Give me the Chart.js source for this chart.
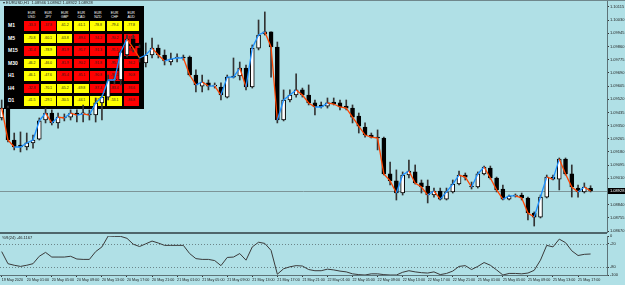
<!DOCTYPE html>
<html>
<head>
<meta charset="utf-8">
<script src="https://cdn.jsdelivr.net/npm/chart.js@4.4.0/dist/chart.umd.min.js"></script>
<style>
body{margin:0;background:#b0e0e6;width:625px;height:285px;overflow:hidden;position:relative;font-family:"Liberation Sans",Arial,sans-serif}
#main{position:absolute;left:0;top:0;z-index:2}
#wpr{position:absolute;left:0;top:234px;z-index:2}
#title{position:absolute;left:3px;top:0;font-size:4px;line-height:6px;color:#222;z-index:3;white-space:pre}
#wlab{position:absolute;left:2px;top:235px;font-size:4px;line-height:5px;color:#222;z-index:3}
#panel{position:absolute;left:4px;top:6px;width:140px;height:103px;background:#000;z-index:1}
.hd{position:absolute;color:#fff;font-size:3.5px;line-height:3.7px;text-align:center;width:15px}
.rl{position:absolute;color:#fff;font-weight:bold;font-size:5px;line-height:9.5px}
.cell{position:absolute;width:15px;height:9.5px;font-size:3.5px;line-height:9.5px;text-align:center;color:#222}
</style>
</head>
<body>
<div id="title">▾ EURUSD,H1  1.08946 1.08962 1.08922 1.08928</div>
<div id="panel"></div>
<canvas id="main" width="625" height="234"></canvas>
<canvas id="wpr" width="625" height="51"></canvas>
<div id="wlab">%R(24) -46.1167</div>
<script>
// EURUSD H1, 19 May 21:00 .. 25 May 19:00
var timeLabels = ["19 May 2020","20 May 01:00","20 May 05:00","20 May 09:00","20 May 13:00","20 May 17:00",
  "20 May 21:00","21 May 01:00","21 May 05:00","21 May 09:00","21 May 13:00","21 May 17:00",
  "21 May 21:00","22 May 01:00","22 May 05:00","22 May 09:00","22 May 13:00","22 May 17:00",
  "22 May 21:00","25 May 01:00","25 May 05:00","25 May 09:00","25 May 13:00","25 May 17:00"];

var opens = [1.09399,1.09463,1.09257,1.09225,1.09212,1.09238,1.09263,1.09386,1.09431,1.09367,
  1.09405,1.09405,1.09431,1.09425,1.09425,1.09418,1.09496,1.09534,1.09644,1.09644,
  1.09805,1.09908,1.09850,1.09754,1.09805,1.09850,1.09805,1.09760,1.09786,1.09792,
  1.09792,1.09676,1.09605,1.09625,1.09605,1.09599,1.09534,1.09670,1.09670,1.09721,
  1.09599,1.09850,1.09941,1.09954,1.09857,1.09386,1.09515,1.09547,1.09580,1.09547,
  1.09496,1.09483,1.09476,1.09502,1.09496,1.09476,1.09463,1.09412,1.09341,1.09289,
  1.09276,1.09270,1.09038,1.08993,1.08915,1.09031,1.09051,1.08980,1.08960,1.08902,
  1.08928,1.08876,1.08922,1.08973,1.09031,1.08960,1.08954,1.09038,1.09076,1.09012,
  1.08941,1.08876,1.08896,1.08902,1.08883,1.08786,1.08760,1.08889,1.09018,1.09005,
  1.09134,1.09038,1.08947,1.08922,1.08946];
var highs = [1.09515,1.09476,1.09302,1.09309,1.09302,1.09289,1.09399,1.09463,1.09451,1.09431,
  1.09425,1.09451,1.09451,1.09483,1.09451,1.09528,1.09547,1.09676,1.09670,1.09838,
  1.09934,1.09934,1.09870,1.09883,1.09915,1.09870,1.09838,1.09818,1.09812,1.09805,
  1.09799,1.09709,1.09676,1.09644,1.09625,1.09625,1.09676,1.09786,1.09760,1.09741,
  1.09870,1.10031,1.10083,1.09954,1.09889,1.09580,1.09580,1.09683,1.09592,1.09612,
  1.09515,1.09502,1.09528,1.09528,1.09515,1.09515,1.09483,1.09431,1.09367,1.09302,
  1.09322,1.09276,1.09115,1.09064,1.09051,1.09128,1.09096,1.08999,1.08999,1.08947,
  1.08947,1.08947,1.08999,1.09057,1.09044,1.08986,1.09051,1.09089,1.09089,1.09018,
  1.08967,1.08902,1.08909,1.08915,1.08889,1.08793,1.08902,1.09031,1.09031,1.09141,
  1.09141,1.09096,1.08967,1.08980,1.08962];
var lows = [1.09386,1.09244,1.09193,1.09180,1.09193,1.09205,1.09257,1.09367,1.09354,1.09334,
  1.09380,1.09386,1.09373,1.09373,1.09386,1.09373,1.09386,1.09515,1.09618,1.09612,
  1.09792,1.09825,1.09760,1.09728,1.09786,1.09786,1.09741,1.09741,1.09760,1.09773,
  1.09670,1.09567,1.09567,1.09580,1.09592,1.09515,1.09528,1.09657,1.09644,1.09580,
  1.09592,1.09838,1.09934,1.09663,1.09367,1.09380,1.09502,1.09534,1.09534,1.09483,
  1.09418,1.09463,1.09463,1.09483,1.09451,1.09451,1.09367,1.09302,1.09276,1.09270,
  1.09193,1.09031,1.08967,1.08870,1.08902,1.09012,1.08973,1.08915,1.08851,1.08889,
  1.08870,1.08870,1.08915,1.08967,1.08999,1.08941,1.08947,1.09031,1.09005,1.08922,
  1.08870,1.08870,1.08889,1.08870,1.08741,1.08702,1.08754,1.08883,1.08999,1.08935,
  1.09031,1.08889,1.08889,1.08915,1.08922];
var closes = [1.09463,1.09257,1.09212,1.09212,1.09238,1.09257,1.09380,1.09431,1.09367,1.09405,
  1.09399,1.09431,1.09418,1.09425,1.09418,1.09496,1.09534,1.09644,1.09644,1.09825,
  1.09908,1.09850,1.09786,1.09805,1.09850,1.09805,1.09767,1.09779,1.09786,1.09786,
  1.09676,1.09612,1.09631,1.09605,1.09605,1.09547,1.09663,1.09663,1.09721,1.09599,
  1.09850,1.09934,1.09954,1.09857,1.09386,1.09515,1.09547,1.09580,1.09547,1.09496,
  1.09470,1.09470,1.09496,1.09489,1.09470,1.09463,1.09405,1.09347,1.09289,1.09276,
  1.09270,1.09038,1.08993,1.08915,1.09031,1.09057,1.08980,1.08954,1.08902,1.08928,
  1.08876,1.08922,1.08973,1.09031,1.09018,1.08954,1.09038,1.09083,1.09012,1.08935,
  1.08876,1.08896,1.08896,1.08883,1.08786,1.08760,1.08889,1.09018,1.09005,1.09134,
  1.09038,1.08954,1.08922,1.08954,1.08928];

// Williams %R(24)
var wpr = [-40,-71,-75,-78,-75,-71,-52,-42,-54,-54,-54,-52,-59,-60,-60,-40,-28,0,-1,-1,
  -6,-21,-27,-20,-13,-18,-24,-24,-24,-24,-45,-58,-60,-60,-63,-76,-55,-54,-45,-62,
  -28,-16,-19,-37,-98,-84,-79,-76,-77,-86,-89,-89,-85,-87,-90,-92,-97,-99,-100,-97,
  -97,-99,-100,-100,-93,-89,-92,-94,-95,-92,-99,-96,-90,-78,-76,-86,-78,-68,-75,-87,
  -100,-96,-96,-97,-95,-88,-62,-24,-28,-8,-17,-38,-50,-47,-46.1167];

var priceTicks = [1.10115,1.10030,1.09945,1.09860,1.09775,1.09690,1.09605,1.09520,1.09435,
  1.09350,1.09265,1.09180,1.09095,1.09010,1.08925,1.08840,1.08755,1.08670];
var wprTicks = [0,-20,-80,-100];
var wprLevels = [-20,-80];

// dashboard panel
var pairs = ["USD","JPY","GBP","CAD","NZD","CHF","AUD"];
var frames = ["M1","M5","M15","M30","H1","H4","D1"];
var cellValues = [
  [-33.3,-37.8,-61.2,-61.1,-78.8,-79.4,-77.8],
  [-70.8,-60.1,-63.8,-89.4,-94.2,-90.2,-91.2],
  [-31.4,-78.9,-81.9,-91.7,-91.3,-91.1,-93.4],
  [-46.2,-46.0,-81.9,-90.2,-91.8,-95.4,-94.2],
  [-46.1,-47.6,-85.4,-85.1,-90.8,-90.1,-90.8],
  [-32.8,-70.1,-65.2,-69.8,-87.4,-83.4,-93.6],
  [-41.5,-29.1,-30.5,-44.1,-57.1,-53.1,-86.8]];
var cellSignal = ["RRYYYYY","YYYRRRR","RYRRRRR","YYRRRRR","YYRRRRR","RYYYRRR","YYYYYYR"];

var panel = document.getElementById("panel");
pairs.forEach(function(p, c){
  var h = document.createElement("div");
  h.className = "hd";
  h.style.left = (20 + c*16.6) + "px";
  h.style.top = "6px";
  h.innerHTML = "EUR<br>" + p;
  panel.appendChild(h);
});
frames.forEach(function(f, r){
  var l = document.createElement("div");
  l.className = "rl";
  l.style.left = "4px";
  l.style.top = (15 + r*12.5) + "px";
  l.textContent = f;
  panel.appendChild(l);
  cellValues[r].forEach(function(v, c){
    var d = document.createElement("div");
    d.className = "cell";
    d.style.left = (20 + c*16.6) + "px";
    d.style.top = (15 + r*12.5) + "px";
    d.style.background = cellSignal[r][c] == "R" ? "#ff0000" : "#ffff00";
    d.textContent = v.toFixed(1);
    panel.appendChild(d);
  });
});

var X_MIN = -0.27, X_MAX = 96.62;
var idx = closes.map(function(_, i){ return i });
var tickFont = {size: 4, family: "Liberation Sans"};

var mainDecor = {
  id: "mainDecor",
  beforeDatasetsDraw: function(chart){
    var ctx = chart.ctx, a = chart.chartArea;
    var py = Math.round(chart.scales.y.getPixelForValue(closes[closes.length-1])) + 0.5;
    ctx.save();
    ctx.strokeStyle = "#7d9598";
    ctx.lineWidth = 1;
    ctx.beginPath(); ctx.moveTo(a.left, py); ctx.lineTo(a.right, py); ctx.stroke();
    ctx.restore();
  },
  afterDraw: function(chart){
    var ctx = chart.ctx, a = chart.chartArea;
    var last = closes[closes.length-1];
    var py = chart.scales.y.getPixelForValue(last);
    ctx.save();
    ctx.fillStyle = "#6f878c";
    ctx.fillRect(0, 0, 625, 1);
    ctx.fillStyle = "#4f666b";
    ctx.fillRect(0, a.bottom, a.right, 2);
    ctx.fillStyle = "#000";
    ctx.fillRect(a.right + 1, py - 3, 17, 6);
    ctx.fillStyle = "#fff";
    ctx.font = "4px 'Liberation Sans'";
    ctx.textBaseline = "middle";
    ctx.fillText(last.toFixed(5), a.right + 3, py);
    ctx.restore();
  }
};

new Chart(document.getElementById("main"), {
  data: {
    datasets: [
      {
        type: "line",
        data: idx.map(function(i){ return {x: i, y: closes[i]} }),
        borderWidth: 1.3,
        pointRadius: 0,
        segment: {
          borderColor: function(ctx){ return ctx.p1.parsed.y >= ctx.p0.parsed.y ? "#1e90ff" : "#ff4500" }
        },
        order: 0
      },
      {
        type: "bar",
        data: idx.map(function(i){ return {x: i, y: [opens[i], closes[i]]} }),
        backgroundColor: idx.map(function(i){ return closes[i] >= opens[i] ? "#ffffff" : "#000000" }),
        borderColor: "#000",
        borderWidth: 1,
        borderSkipped: false,
        barThickness: 4,
        minBarLength: 1,
        grouped: false,
        order: 1
      },
      {
        type: "bar",
        data: idx.map(function(i){ return {x: i, y: [lows[i], highs[i]]} }),
        backgroundColor: "#333",
        barThickness: 1,
        grouped: false,
        order: 2
      }
    ]
  },
  options: {
    responsive: false,
    animation: false,
    devicePixelRatio: 1,
    layout: {padding: {bottom: 2}},
    plugins: {legend: {display: false}, tooltip: {enabled: false}},
    scales: {
      x: {type: "linear", min: X_MIN, max: X_MAX, offset: false, display: false},
      y: {
        position: "right",
        min: 1.086636,
        max: 1.10160,
        afterBuildTicks: function(s){ s.ticks = priceTicks.map(function(v){ return {value: v} }) },
        afterFit: function(s){ s.width = 18; s.paddingTop = 0; s.paddingBottom = 0 },
        ticks: {font: tickFont, color: "#222", padding: 1, callback: function(v){ return v.toFixed(5) }},
        grid: {drawOnChartArea: false, tickLength: 2, color: "#333"},
        border: {color: "#5d7378", width: 1}
      }
    }
  },
  plugins: [mainDecor]
});

var levels = {
  id: "levels",
  beforeDatasetsDraw: function(chart){
    var ctx = chart.ctx, a = chart.chartArea, y = chart.scales.y;
    ctx.save();
    ctx.strokeStyle = "#6b8589";
    ctx.lineWidth = 1;
    ctx.setLineDash([1, 2]);
    wprLevels.forEach(function(v){
      var py = Math.round(y.getPixelForValue(v)) + 0.5;
      ctx.beginPath(); ctx.moveTo(a.left, py); ctx.lineTo(a.right, py); ctx.stroke();
    });
    ctx.restore();
  }
};

new Chart(document.getElementById("wpr"), {
  type: "line",
  data: {
    datasets: [{
      data: idx.map(function(i){ return {x: i, y: wpr[i]} }),
      borderColor: "#3a3a3a",
      borderWidth: 1,
      pointRadius: 0
    }]
  },
  options: {
    responsive: false,
    animation: false,
    devicePixelRatio: 1,
    layout: {padding: {top: 2}},
    plugins: {legend: {display: false}, tooltip: {enabled: false}},
    scales: {
      x: {
        type: "linear", min: X_MIN, max: X_MAX, offset: false,
        afterBuildTicks: function(s){ s.ticks = timeLabels.map(function(_, k){ return {value: k*4} }) },
        afterFit: function(s){ s.height = 10; s.paddingLeft = 0; s.paddingRight = 0 },
        ticks: {align: "start", maxRotation: 0, autoSkip: false, font: {size: 3.7, family: "Liberation Sans"}, color: "#222", padding: 1,
          callback: function(v, i){ return timeLabels[i] }},
        grid: {drawOnChartArea: false, tickLength: 2, color: "#333"},
        border: {color: "#5d7378", width: 1}
      },
      y: {
        position: "right", min: -100, max: 0,
        afterBuildTicks: function(s){ s.ticks = wprTicks.map(function(v){ return {value: v} }) },
        afterFit: function(s){ s.width = 18; s.paddingTop = 0; s.paddingBottom = 0 },
        ticks: {font: tickFont, color: "#222", padding: 1},
        grid: {drawOnChartArea: false, tickLength: 2, color: "#333"},
        border: {color: "#5d7378", width: 1}
      }
    }
  },
  plugins: [levels]
});
</script>
</body>
</html>
